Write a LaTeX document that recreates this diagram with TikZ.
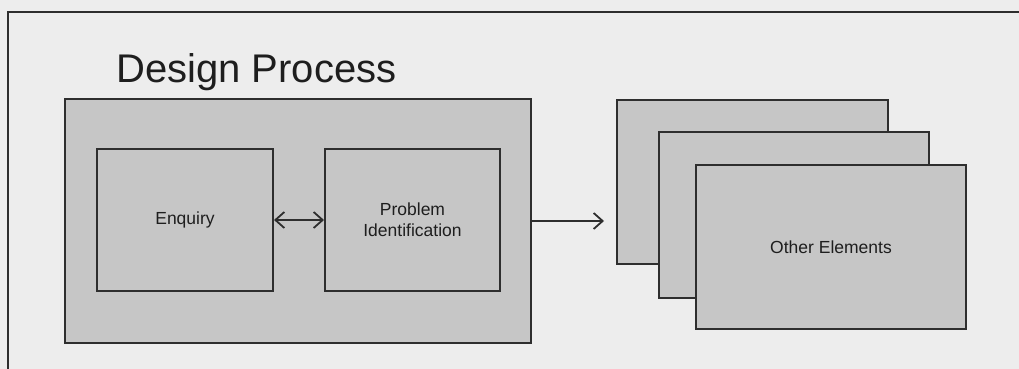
\documentclass[tikz,border=0pt]{standalone}
\usepackage{fontspec}
\setmainfont{Liberation Sans}
\usetikzlibrary{arrows.meta}
\definecolor{pagebg}{HTML}{EDEDED}
\definecolor{boxfill}{HTML}{C6C6C6}
\definecolor{edge}{HTML}{2E2E2E}
\definecolor{ink}{HTML}{1E1E1E}
\tikzset{
  panel/.style={draw=edge, line width=2pt, fill=boxfill},
  card/.style={panel, anchor=north west, inner sep=0pt, text=ink,
               font=\fontsize{17.5}{22}\selectfont, align=center},
  barb/.tip={Straight Barb[length=9pt,width=16pt,line width=1.8pt]},
  link/.style={draw=edge, line width=1.8pt, arrows={-barb}},
  biglink/.style={link, arrows={barb-barb}}
}
\begin{document}
\begin{tikzpicture}[x=1pt,y=-1pt]
  \useasboundingbox (0,0) rectangle (1019,369);
  \clip (0,0) rectangle (1019,369);
  \fill[pagebg] (0,0) rectangle (1019,369);
  % outer frame, running off the right and bottom edges
  \draw[edge, line width=2pt] (8,380) -- (8,12) -- (1030,12);

  \node[anchor=base west, text=ink, font=\fontsize{40}{48}\selectfont, inner sep=0pt]
    (title) at (116,82) {Design Process};

  % design process panel with its two stages
  \node[card, minimum width=466pt, minimum height=244pt] (design) at (64,98) {};
  \node[card, minimum width=176pt, minimum height=142pt] (enquiry) at (96,148) {Enquiry};
  \node[card, minimum width=175pt, minimum height=142pt] (problem) at (324,148)
    {Problem\\[-1pt]Identification};

  % stack of further elements
  \node[card, minimum width=271pt, minimum height=164pt] (back) at (616,99) {};
  \node[card, minimum width=270pt, minimum height=166pt] (middle) at (658,131) {};
  \node[card, minimum width=270pt, minimum height=164pt] (front) at (695,164) {Other Elements};

  \coordinate (stackin) at ([xshift=72pt]design.east);

  \draw[biglink] (enquiry.east) -- (problem.west);
  \draw[link] (design.east) -- (stackin);
\end{tikzpicture}
\end{document}
